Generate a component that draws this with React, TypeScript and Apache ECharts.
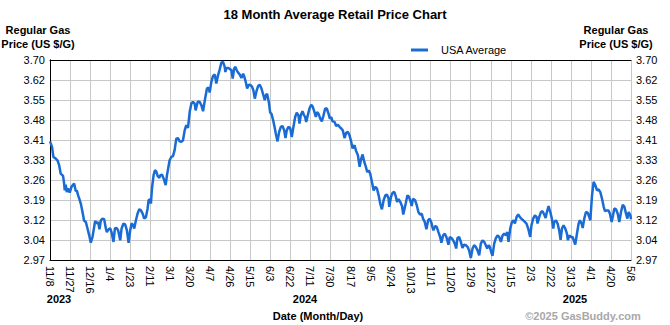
import React, { useEffect, useRef } from 'react';
import * as echarts from 'echarts';

const xLabels = ['11/8', '11/27', '12/16', '1/4', '1/23', '2/11', '3/1', '3/20', '4/7', '4/26', '5/15', '6/3', '6/22', '7/11', '7/30', '8/17', '9/5', '9/24', '10/13', '11/1', '11/20', '12/9', '12/27', '1/15', '2/3', '2/22', '3/13', '4/1', '4/20', '5/8'];
const yLabels = ['2.97', '3.04', '3.12', '3.19', '3.26', '3.33', '3.41', '3.48', '3.55', '3.62', '3.70'];
const yearLabels = ['2023', '2024', '2025'];
const TOTAL_DAYS = 547; // 2023-11-08 .. 2025-05-08
const Y_MIN = 2.97;
const Y_STEP = 0.073;

// days since 2023-11-08
const days = [
  0, 1.9, 3.2, 5.4, 7.0, 8.6, 10.1, 12.3, 13.3, 13.9, 14.8, 15.8, 17.0, 18.6, 20.2, 22.7, 24.3, 25.2, 26.5, 27.7,
  29.0, 30.6, 32.1, 33.7, 35.3, 36.9, 38.4, 40.0, 41.6, 42.5, 44.1, 45.3, 46.6, 47.9, 49.4, 51.0, 52.6, 53.5, 55.1, 56.7,
  57.9, 59.8, 61.1, 62.6, 64.2, 66.1, 67.4, 69.2, 70.8, 72.4, 74.0, 75.5, 76.8, 78.0, 79.3, 80.9, 82.4, 84.0, 85.6, 87.2,
  88.7, 90.3, 91.9, 92.8, 94.1, 95.0, 96.0, 97.5, 98.8, 100.0, 101.3, 102.9, 103.8, 105.4, 107.0, 108.9, 110.1, 112.6, 114.2, 115.8,
  117.3, 118.9, 120.5, 122.0, 123.6, 125.2, 126.8, 128.3, 129.9, 131.5, 133.1, 134.6, 136.2, 137.1, 138.4, 139.3, 140.9, 142.5, 144.1, 145.0,
  146.3, 147.8, 149.4, 150.3, 151.9, 153.5, 155.1, 156.6, 158.2, 159.8, 161.3, 162.9, 164.5, 165.1, 166.1, 167.6, 169.2, 170.8, 172.0, 173.3,
  174.6, 175.8, 177.1, 178.6, 180.2, 181.8, 182.7, 184.3, 185.6, 187.1, 189.0, 190.3, 191.5, 192.8, 194.4, 195.9, 197.5, 199.1, 200.7, 202.2,
  203.2, 204.4, 206.0, 207.3, 208.5, 210.1, 211.7, 212.6, 214.2, 215.7, 217.3, 218.9, 220.5, 221.7, 222.9, 224.5, 226.1, 227.6, 229.2, 230.8,
  232.3, 233.9, 234.9, 236.1, 237.7, 238.9, 240.2, 241.2, 242.7, 244.3, 245.9, 247.4, 249.0, 250.3, 251.5, 252.8, 254.4, 255.9, 257.5, 259.1,
  260.6, 262.2, 263.5, 264.7, 266.0, 267.9, 269.4, 271.0, 272.6, 274.2, 275.7, 277.3, 278.9, 280.5, 282.0, 283.6, 284.9, 286.7, 288.0, 289.9,
  291.5, 293.0, 294.3, 295.9, 297.4, 298.7, 299.9, 301.5, 303.1, 304.7, 306.2, 307.8, 309.4, 310.9, 312.5, 314.1, 315.7, 317.2, 318.8, 319.4,
  321.0, 322.6, 324.2, 325.7, 326.7, 328.2, 329.8, 331.4, 332.6, 334.9, 336.5, 338.0, 339.6, 340.5, 341.8, 343.7, 345.3, 346.8, 348.4, 350.0,
  351.2, 352.8, 354.4, 356.0, 357.5, 359.1, 360.0, 361.0, 362.6, 364.1, 365.7, 367.3, 368.5, 370.1, 371.7, 373.2, 375.1, 376.4, 378.0, 379.5,
  381.1, 382.4, 383.6, 385.2, 386.8, 388.3, 389.9, 391.5, 393.1, 394.6, 396.2, 397.8, 399.3, 400.9, 402.5, 404.1, 405.6, 407.2, 408.8, 410.3,
  411.6, 412.9, 414.1, 415.4, 416.6, 418.2, 419.8, 421.3, 422.9, 424.5, 426.1, 427.6, 429.2, 430.5, 431.7, 433.3, 434.9, 436.4, 437.7, 439.3,
  440.8, 442.4, 443.7, 445.5, 447.1, 448.6, 450.2, 452.1, 453.3, 454.9, 456.5, 458.1, 459.0, 460.6, 462.2, 463.7, 465.3, 466.6, 467.8, 469.4,
  471.0, 472.5, 473.8, 474.7, 476.3, 477.9, 479.4, 480.7, 482.0, 483.5, 485.1, 486.7, 487.6, 488.9, 490.4, 492.0, 493.6, 494.5, 496.1, 497.7,
  498.9, 500.5, 501.5, 503.0, 504.6, 506.2, 507.7, 508.7, 510.3, 511.8, 513.4, 515.0, 516.5, 518.1, 519.7, 521.3, 522.5, 524.1, 525.7, 527.2,
  528.8, 530.1, 531.3, 532.9, 534.5, 536.0, 537.6, 539.2, 540.8, 542.3, 543.6, 544.8, 546.4, 547.0,
];

// USA average regular gas price ($/G)
const prices = [
  3.403, 3.383, 3.346, 3.340, 3.334, 3.316, 3.285, 3.277, 3.249, 3.224, 3.245, 3.218, 3.231, 3.216, 3.237, 3.249, 3.221, 3.224, 3.206, 3.192,
  3.176, 3.145, 3.113, 3.109, 3.085, 3.060, 3.033, 3.054, 3.091, 3.113, 3.103, 3.109, 3.082, 3.115, 3.121, 3.119, 3.085, 3.072, 3.082, 3.085,
  3.072, 3.036, 3.085, 3.087, 3.078, 3.042, 3.085, 3.103, 3.099, 3.078, 3.033, 3.078, 3.103, 3.099, 3.085, 3.115, 3.139, 3.155, 3.151, 3.139,
  3.121, 3.127, 3.158, 3.188, 3.192, 3.176, 3.231, 3.279, 3.297, 3.294, 3.277, 3.270, 3.279, 3.282, 3.267, 3.243, 3.279, 3.334, 3.346, 3.349,
  3.370, 3.413, 3.415, 3.403, 3.401, 3.407, 3.443, 3.462, 3.452, 3.510, 3.541, 3.547, 3.541, 3.516, 3.537, 3.549, 3.547, 3.535, 3.513, 3.535,
  3.565, 3.596, 3.599, 3.581, 3.620, 3.642, 3.647, 3.614, 3.644, 3.666, 3.690, 3.693, 3.675, 3.656, 3.671, 3.671, 3.668, 3.662, 3.632, 3.668,
  3.675, 3.662, 3.654, 3.647, 3.634, 3.650, 3.642, 3.620, 3.596, 3.610, 3.608, 3.602, 3.589, 3.559, 3.586, 3.605, 3.610, 3.596, 3.574, 3.553,
  3.571, 3.577, 3.547, 3.508, 3.504, 3.480, 3.450, 3.431, 3.403, 3.437, 3.456, 3.459, 3.443, 3.415, 3.443, 3.456, 3.452, 3.419, 3.456, 3.492,
  3.508, 3.498, 3.468, 3.498, 3.513, 3.501, 3.492, 3.474, 3.498, 3.523, 3.537, 3.529, 3.510, 3.492, 3.510, 3.504, 3.486, 3.476, 3.498, 3.523,
  3.523, 3.504, 3.486, 3.492, 3.476, 3.474, 3.459, 3.464, 3.456, 3.450, 3.443, 3.415, 3.435, 3.437, 3.425, 3.401, 3.377, 3.389, 3.370, 3.352,
  3.310, 3.340, 3.355, 3.328, 3.310, 3.291, 3.297, 3.285, 3.255, 3.224, 3.237, 3.231, 3.206, 3.176, 3.155, 3.188, 3.206, 3.209, 3.194, 3.164,
  3.200, 3.216, 3.218, 3.200, 3.182, 3.192, 3.182, 3.167, 3.136, 3.176, 3.206, 3.200, 3.182, 3.167, 3.194, 3.188, 3.170, 3.145, 3.136, 3.139,
  3.121, 3.109, 3.082, 3.115, 3.121, 3.106, 3.091, 3.078, 3.094, 3.091, 3.072, 3.054, 3.033, 3.060, 3.066, 3.054, 3.026, 3.054, 3.050, 3.042,
  3.030, 3.012, 3.050, 3.054, 3.036, 3.014, 3.026, 3.024, 3.018, 3.005, 2.977, 3.012, 3.024, 3.018, 3.005, 2.987, 3.030, 3.042, 3.036, 3.024,
  3.012, 3.024, 3.018, 2.999, 2.985, 3.030, 3.050, 3.060, 3.054, 3.036, 3.060, 3.066, 3.060, 3.072, 3.036, 3.085, 3.109, 3.115, 3.103, 3.127,
  3.136, 3.127, 3.121, 3.115, 3.109, 3.103, 3.085, 3.054, 3.097, 3.121, 3.133, 3.127, 3.103, 3.127, 3.145, 3.148, 3.136, 3.123, 3.145, 3.167,
  3.145, 3.121, 3.085, 3.109, 3.115, 3.103, 3.078, 3.044, 3.085, 3.097, 3.085, 3.066, 3.042, 3.060, 3.054, 3.054, 3.036, 3.026, 3.066, 3.103,
  3.115, 3.103, 3.087, 3.121, 3.145, 3.143, 3.127, 3.115, 3.206, 3.255, 3.243, 3.224, 3.228, 3.218, 3.194, 3.164, 3.148, 3.151, 3.151, 3.139,
  3.109, 3.133, 3.158, 3.155, 3.139, 3.109, 3.145, 3.172, 3.164, 3.139, 3.121, 3.145, 3.133, 3.119,
];

const FONT = '"Liberation Sans", Arial, sans-serif';
const LINE_COLOR = '#1a6cd4';

export default function App() {
  const ref = useRef<HTMLDivElement>(null);

  useEffect(() => {
    const chart = echarts.init(ref.current as HTMLDivElement, null, { renderer: 'svg' });
    const nX = xLabels.length - 1;
    const nY = yLabels.length - 1;
    const data = days.map((d, i) => [(d / TOTAL_DAYS) * nX, (prices[i] - Y_MIN) / Y_STEP]);

    const txt = (text: string, x: number, y: number, opts: any = {}) => ({
      type: 'text',
      x,
      y,
      silent: true,
      style: {
        text,
        font: `${opts.weight || 'bold'} ${opts.size || 11}px ${FONT}`,
        fill: opts.fill || '#000',
        align: opts.align || 'center',
        verticalAlign: 'middle',
        textAlign: opts.align || 'center',
        textVerticalAlign: 'middle',
      },
    });

    const yAxisBase = {
      type: 'value',
      min: 0,
      max: nY,
      interval: 1,
      axisLine: { show: true, lineStyle: { color: '#000', width: 1 } },
      axisTick: { show: false },
      axisLabel: {
        margin: 5,
        fontSize: 11,
        fontFamily: FONT,
        color: '#000',
        formatter: (v: number) => yLabels[Math.round(v)] ?? '',
      },
    };

    chart.setOption({
      animation: false,
      textStyle: { fontFamily: FONT },
      grid: { left: 50, right: 39, top: 60, bottom: 65, containLabel: false },
      xAxis: [
        {
          type: 'value',
          min: 0,
          max: nX,
          interval: 1,
          position: 'bottom',
          axisLine: { show: true, onZero: false, lineStyle: { color: '#000', width: 1 } },
          axisTick: { show: false },
          splitLine: { show: true, lineStyle: { color: '#c8c8c8', width: 1 } },
          axisLabel: {
            rotate: -90,
            margin: 6,
            fontSize: 11,
            fontFamily: FONT,
            color: '#000',
            hideOverlap: false,
            showMinLabel: true,
            showMaxLabel: true,
            formatter: (v: number) => xLabels[Math.round(v)] ?? '',
          },
        },
        {
          type: 'value',
          min: 0,
          max: nX,
          position: 'top',
          axisLine: { show: true, onZero: false, lineStyle: { color: '#000', width: 1 } },
          axisTick: { show: false },
          axisLabel: { show: false },
          splitLine: { show: false },
        },
      ],
      yAxis: [
        { ...yAxisBase, position: 'left', splitLine: { show: true, lineStyle: { color: '#c8c8c8', width: 1 } } },
        { ...yAxisBase, position: 'right', splitLine: { show: false } },
      ],
      series: [
        {
          type: 'line',
          name: 'USA Average',
          data,
          xAxisIndex: 0,
          yAxisIndex: 0,
          symbol: 'none',
          showSymbol: false,
          lineStyle: { color: LINE_COLOR, width: 2.5 },
          itemStyle: { color: LINE_COLOR },
        },
      ],
      graphic: [
        txt('18 Month Average Retail Price Chart', 335, 14, { size: 13 }),
        txt('Regular Gas', 38, 30),
        txt('Price (US $/G)', 38, 44),
        txt('Regular Gas', 616, 30),
        txt('Price (US $/G)', 616, 44),
        {
          type: 'line',
          silent: true,
          shape: { x1: 411, y1: 50, x2: 428, y2: 50 },
          style: { stroke: LINE_COLOR, lineWidth: 3 },
        },
        txt('USA Average', 441, 50, { weight: 'normal', align: 'left' }),
        txt(yearLabels[0], 59, 299),
        txt(yearLabels[1], 305, 299),
        txt(yearLabels[2], 575, 299),
        txt('Date (Month/Day)', 318, 316),
        txt('\u00a92025 GasBuddy.com', 583, 316, { fill: '#a8a8a8' }),
      ],
    });

    return () => chart.dispose();
  }, []);

  return <div ref={ref} style={{ position: 'fixed', left: 0, top: 0, width: 670, height: 325, background: '#fff' }} />;
}
